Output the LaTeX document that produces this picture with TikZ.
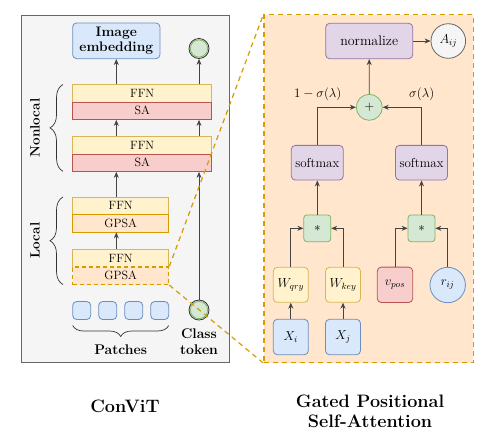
\RequirePackage{fix-cm}
\documentclass[tikz,border=0pt]{standalone}
\usepackage{fontspec}
\usetikzlibrary{arrows.meta,decorations.pathreplacing,calc}
\definecolor{grayF}{HTML}{F5F5F5}\definecolor{grayS}{HTML}{666666}
\definecolor{blueF}{HTML}{DAE8FC}\definecolor{blueS}{HTML}{6C8EBF}
\definecolor{yelF}{HTML}{FFF2CC}\definecolor{yelS}{HTML}{D6B656}
\definecolor{redF}{HTML}{F8CECC}\definecolor{redS}{HTML}{B85450}
\definecolor{orF}{HTML}{FFE6CC}\definecolor{orS}{HTML}{D79B00}
\definecolor{grF}{HTML}{D5E8D4}\definecolor{grS}{HTML}{82B366}
\definecolor{puF}{HTML}{E1D5E7}\definecolor{puS}{HTML}{9673A6}
\definecolor{lineC}{HTML}{444444}
\begin{document}
\begin{tikzpicture}[x=1pt,y=-1pt,
  txt/.style={font=\fontsize{13}{15}\selectfont},
  ltxt/.style={font=\fontsize{12}{14}\selectfont},
  btxt/.style={font=\fontsize{13.5}{15}\selectfont\bfseries},
  ttl/.style={font=\fontsize{18}{21}\selectfont\bfseries, align=center},
  lay/.style={draw, line width=0.8pt, inner sep=0pt, minimum height=17.5pt, ltxt},
  ffnbox/.style={lay, fill=yelF, draw=yelS},
  sabox/.style={lay, fill=redF, draw=redS},
  gpsabox/.style={lay, fill=orF, draw=orS},
  rbox/.style={draw, line width=0.8pt, rounded corners=4pt, inner sep=0pt, txt},
  circ/.style={circle, draw, line width=0.8pt, inner sep=0pt, txt},
  arr/.style={draw=lineC, line width=0.8pt, -{Stealth[length=6pt,width=5pt]}},
  bracestyle/.style={draw=black!80, line width=0.7pt, decorate},
  dashc/.style={draw=orS, line width=1.2pt, dash pattern=on 5pt off 4pt}
]
\useasboundingbox (0,0) rectangle (497,440);
% left panel
\node[draw=grayS, fill=grayF, line width=1pt, minimum width=208pt, minimum height=347pt, inner sep=0pt] (leftpanel) at (125,188.5) {};
% right panel
\node[draw=orS, fill=orF, line width=1.2pt, dash pattern=on 5pt off 4pt, minimum width=209.3pt, minimum height=347.7pt, inner sep=0pt] (rightpanel) at (368.7,188.7) {};

% left content
\node[rbox, fill=blueF, draw=blueS, minimum width=87.3pt, minimum height=35.7pt, align=center, font=\fontsize{13.8}{14.8}\selectfont\bfseries] (img) at (116.3,40.8) {Image\\embedding};
\node[circle, draw=black!80, line width=0.8pt, fill=grF, minimum size=20pt, inner sep=0pt] (topc) at (199,48.5) {};
\draw[grS, line width=0.7pt] (topc.center) circle (8.6pt);

\node[ffnbox, minimum width=139pt] (ffn1) at (142.2,93.25) {FFN};
\node[sabox, minimum width=139pt] (sa1) at (142.2,110.75) {SA};
\node[ffnbox, minimum width=139pt] (ffn2) at (142.2,145.25) {FFN};
\node[sabox, minimum width=139pt] (sa2) at (142.2,162.75) {SA};
\node[ffnbox, minimum width=96pt] (ffn3) at (120.7,205.75) {FFN};
\node[gpsabox, minimum width=96pt] (gpsa3) at (120.7,223.25) {GPSA};
\node[ffnbox, minimum width=96pt] (ffn4) at (120.7,258.25) {FFN};
\node[gpsabox, minimum width=96pt, dash pattern=on 4pt off 3pt, line width=1.2pt] (gpsa4) at (120.7,275.75) {GPSA};

\foreach \i/\x in {1/81.7,2/107.7,3/133.7,4/159.7}
  \node[rbox, fill=blueF, draw=blueS, minimum size=18pt] (p\i) at (\x,310.5) {};
\node[circle, draw=black!80, line width=0.8pt, fill=grF, minimum size=20pt, inner sep=0pt] (ct) at (199,310) {};
\draw[grS, line width=0.7pt] (ct.center) circle (8.6pt);

% left arrows
\draw[arr] (ffn1.north -| img.south) -- (img.south);
\draw[arr] (ffn2.north -| img.south) -- (sa1.south -| img.south);
\draw[arr] (ffn3.north -| img.south) -- (sa2.south -| img.south);
\draw[arr] (ffn4.north -| img.south) -- (gpsa3.south -| img.south);
\draw[arr] (ffn1.north -| topc.south) -- (topc.south);
\draw[arr] (ffn2.north -| topc.south) -- (sa1.south -| topc.south);
\draw[arr] (ct.north) -- (sa2.south -| ct.north);

% braces
\coordinate (nlb) at (63,171.3);
\coordinate (nlt) at (63,84.5);
\draw[bracestyle, decoration={brace, amplitude=13pt}] (nlb) -- (nlt);
\node[btxt, rotate=90] (nonlocal) at (35,128) {Nonlocal};
\coordinate (lb) at (63,284.5);
\coordinate (lt) at (63,197);
\draw[bracestyle, decoration={brace, amplitude=13pt}] (lb) -- (lt);
\node[btxt, rotate=90] (local) at (35,240.5) {Local};
\coordinate (pbr) at (168.7,325.5);
\coordinate (pbl) at (72.7,325.5);
\draw[bracestyle, decoration={brace, amplitude=11pt}] (pbr) -- (pbl);
\node[btxt, font=\fontsize{14}{15}\selectfont\bfseries] (patches) at (120.7,350) {Patches};
\node[btxt, align=center, font=\fontsize{14}{16}\selectfont\bfseries] (cls) at (199,342) {Class\\token};

% titles
\node[ttl] (convit) at (125,406.5) {ConViT};
\node[ttl, font=\fontsize{18}{20}\selectfont\bfseries] (gpsatitle) at (370,411.5) {Gated Positional\\Self-Attention};

% right content
\node[rbox, fill=puF, draw=puS, minimum width=87pt, minimum height=35.4pt, font=\fontsize{14}{15}\selectfont] (norm) at (369.2,41) {normalize};
\node[circ, fill=grayF, draw=grayS, minimum size=34.6pt] (aij) at (448.3,41) {$A_{ij}$};
\node[circ, fill=grF, draw=grS, minimum size=26pt] (plus) at (369.3,107.3) {$+$};
\node[rbox, fill=puF, draw=puS, minimum width=52pt, minimum height=34.7pt] (smL) at (317.3,162.7) {softmax};
\node[rbox, fill=puF, draw=puS, minimum width=52pt, minimum height=34.7pt] (smR) at (421.5,162.7) {softmax};
\node[rbox, fill=grF, draw=grS, minimum width=27pt, minimum height=26.7pt, rounded corners=3pt] (stL) at (317.3,228.3) {$*$};
\node[rbox, fill=grF, draw=grS, minimum width=27pt, minimum height=26.7pt, rounded corners=3pt] (stR) at (421.5,228.3) {$*$};
\node[rbox, fill=yelF, draw=yelS, minimum size=35pt] (wq) at (290.8,284.8) {$W_{qry}$};
\node[rbox, fill=yelF, draw=yelS, minimum size=35pt] (wk) at (343,284.8) {$W_{key}$};
\node[rbox, fill=redF, draw=redS, minimum size=35.4pt] (vp) at (395,284.8) {$v_{pos}$};
\node[circ, fill=blueF, draw=blueS, minimum size=35.4pt] (rij) at (447.7,285) {$r_{ij}$};
\node[rbox, fill=blueF, draw=blueS, minimum width=35pt, minimum height=35.4pt] (xi) at (290.8,337) {$X_i$};
\node[rbox, fill=blueF, draw=blueS, minimum width=35pt, minimum height=35.4pt] (xj) at (343,337) {$X_j$};

\node[txt] (lab1) at (317.7,94) {$1-\sigma(\lambda)$};
\node[txt] (lab2) at (421.7,94) {$\sigma(\lambda)$};

\draw[arr] (plus.north) -- (norm.south);
\draw[arr] (norm.east) -- (aij.west);
\draw[arr] (smL.north) |- (plus.west);
\draw[arr] (smR.north) |- (plus.east);
\draw[arr] (stL.north) -- (smL.south);
\draw[arr] (stR.north) -- (smR.south);
\draw[arr] (wq.north) |- (stL.west);
\draw[arr] (wk.north) |- (stL.east);
\draw[arr] (vp.north) |- (stR.west);
\draw[arr] (rij.north) |- (stR.east);
\draw[arr] (xi.north) -- (wq.south);
\draw[arr] (xj.north) -- (wk.south);

% zoom connectors
\draw[dashc] (gpsa4.north east) -- (rightpanel.north west);
\draw[dashc] (gpsa4.south east) -- (rightpanel.south west);
\end{tikzpicture}
\end{document}
